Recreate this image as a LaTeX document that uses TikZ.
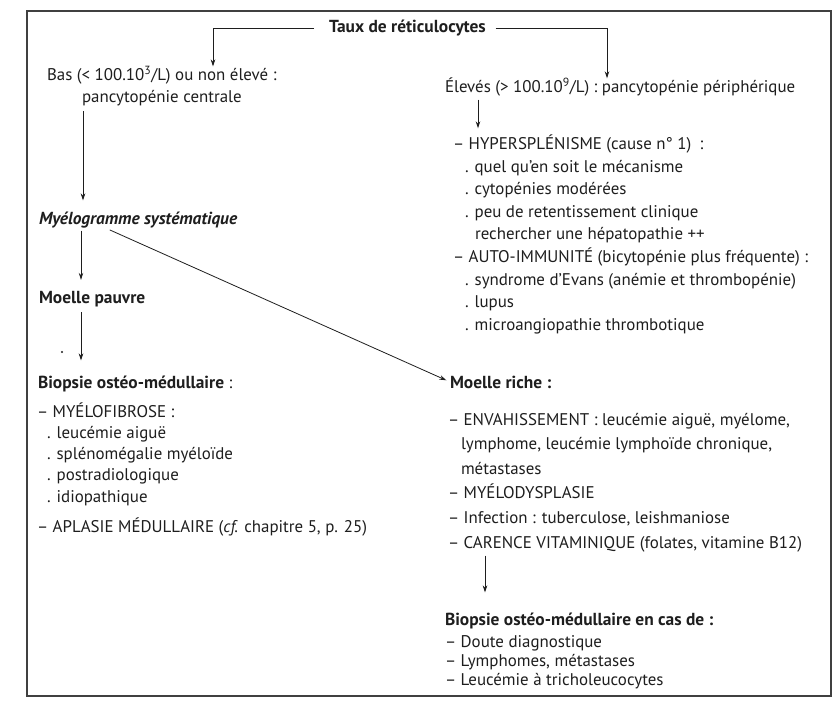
\documentclass[tikz,border=0pt]{standalone}
\usepackage{fontspec}
\setmainfont{PT Sans}
\usetikzlibrary{arrows.meta,calc}
\definecolor{ink}{HTML}{1E1E1E}
\newcommand\bodysize{\fontsize{16.9}{22}\selectfont}
\newcommand\headsize{\fontsize{17.4}{22}\selectfont\bfseries}

\begin{document}
\begin{tikzpicture}[x=1pt,y=-1pt,
  every node/.style={inner sep=0pt,outer sep=0pt,anchor=base west,text=ink,font=\bodysize},
  head/.style={font=\headsize},
  arr/.style={draw=ink,line width=0.8pt,-{Stealth[length=7pt,width=4.5pt]}},
  frame/.style={draw=ink!85,line width=1.2pt}]
\useasboundingbox (0,0) rectangle (834,711);
\fill[white] (0,0) rectangle (834,711);
\draw[frame] (27,11) rectangle (831,696);

% top level
\node[head] (taux) at (329,33) {Taux de réticulocytes};
\node (bas) at (47,81) {Bas (< 100.10\textsuperscript{3}/L) ou non élevé :};
\node (pc) at (82,103) {pancytopénie centrale};
\node (elev) at (445,93) {Élevés (> 100.10\textsuperscript{9}/L) : pancytopénie périphérique};

% peripheral causes
\foreach \dx/\t [count=\i from 0] in {
  0/{– HYPERSPLÉNISME (cause n° 1)\enspace:},
  12/{. quel qu’en soit le mécanisme},
  12/{. cytopénies modérées},
  12/{. peu de retentissement clinique},
  22/{rechercher une hépatopathie ++},
  0/{– AUTO-IMMUNITÉ (bicytopénie plus fréquente) :},
  12/{. syndrome d’Evans (anémie et thrombopénie)},
  12/{. lupus},
  12/{. microangiopathie thrombotique}}
  \node (hy\i) at (453+\dx,150+22.5*\i) {\t};

% central branch
\node[head] (myelo) at (39,225) {\itshape Myélogramme systématique};
\node[head] (pauvre) at (39,303) {Moelle pauvre};
\node (bom) at (38,388) {{\headsize Biopsie ostéo-médullaire} :};
\foreach \dx/\t [count=\i from 0] in {
  0/{– MYÉLOFIBROSE :},
  10/{. leucémie aiguë},
  10/{. splénomégalie myéloïde},
  10/{. postradiologique},
  10/{. idiopathique}}
  \node (mf\i) at (37+\dx,417+21.3*\i) {\t};
\node (apl) at (37,532) {– APLASIE MÉDULLAIRE (\textit{cf.} chapitre 5, p. 25)};

% rich marrow
\node[head] (riche) at (450,388) {Moelle riche :};
\foreach \dx/\t [count=\i from 0] in {
  0/{– ENVAHISSEMENT : leucémie aiguë, myélome,},
  13/{lymphome, leucémie lymphoïde chronique,},
  13/{métastases},
  0/{– MYÉLODYSPLASIE},
  0/{– Infection : tuberculose, leishmaniose},
  0/{– CARENCE VITAMINIQUE (folates, vitamine B12)}}
  \node (en\i) at (448+\dx,425+24.6*\i) {\t};
\node[head] (bcd) at (445,625) {Biopsie ostéo-médullaire en cas de :};
\foreach \t [count=\i from 0] in {
  {– Doute diagnostique},
  {– Lymphomes, métastases},
  {– Leucémie à tricholeucocytes}}
  \node (bc\i) at (445,647+19*\i) {\t};

% connectors
\draw[arr] ([xshift=-15pt]taux.west) -| ([xshift=166pt]bas.north west);
\draw[arr] ([xshift=10pt]taux.east) -| ([xshift=162pt]elev.north west);
\coordinate (p1) at ([xshift=1pt]pc.south west);
\draw[arr,shorten <=5pt,shorten >=12pt] (p1) -- (p1 |- myelo.north);
\coordinate (p2) at ([xshift=42pt]myelo.south west);
\draw[arr,shorten <=2pt,shorten >=11pt] (p2) -- (p2 |- pauvre.north);
\coordinate (p3) at ([xshift=42pt]pauvre.south west);
\draw[arr,shorten <=6pt,shorten >=15pt] (p3) -- (p3 |- bom.north);
\fill[ink] (62,352) circle (1.1pt);
\draw[arr,shorten <=3pt,shorten >=4pt] ([xshift=68pt]myelo.south west) -- (riche.west);
\coordinate (p4) at ([xshift=33pt]elev.south west);
\draw[arr,shorten <=3pt,shorten >=7pt] (p4) -- (p4 |- hy0.north);
\coordinate (p5) at ([xshift=37pt]en5.south west);
\draw[arr,shorten <=4pt,shorten >=20pt] (p5) -- (p5 |- bcd.north);
\end{tikzpicture}
\end{document}
